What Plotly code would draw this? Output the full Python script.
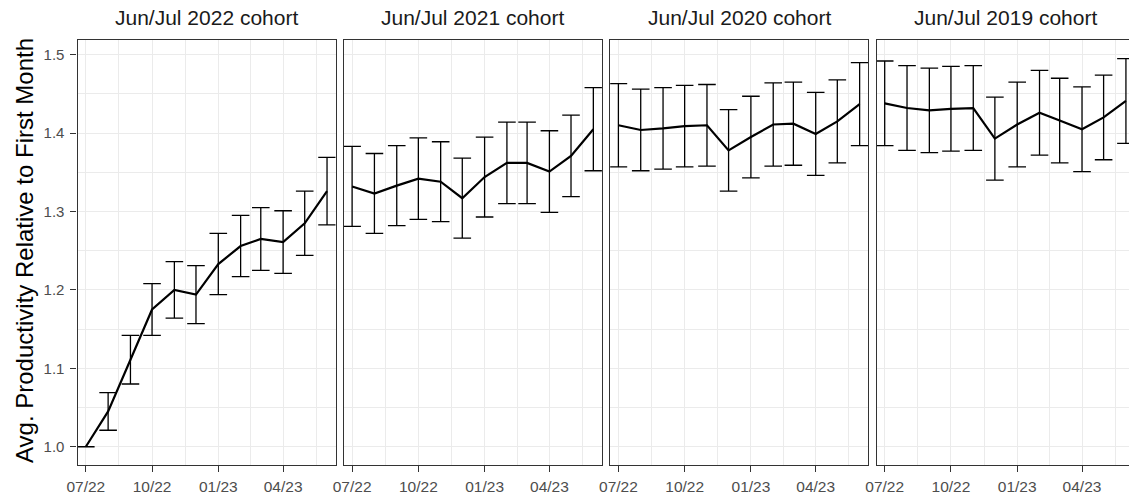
import pandas as pd
import plotly.graph_objects as go

# ---- data -------------------------------------------------------------
months = pd.date_range("2022-07-01", periods=12, freq="MS")

cohorts = ["Jun/Jul 2022 cohort", "Jun/Jul 2021 cohort",
           "Jun/Jul 2020 cohort", "Jun/Jul 2019 cohort"]

prod_2022 = [1.000, 1.045, 1.111, 1.175, 1.200, 1.194, 1.233, 1.256, 1.265, 1.261, 1.285, 1.326]
err_2022 = [0.000, 0.024, 0.031, 0.033, 0.036, 0.037, 0.039, 0.039, 0.040, 0.040, 0.041, 0.043]

prod_2021 = [1.332, 1.323, 1.333, 1.342, 1.338, 1.317, 1.344, 1.362, 1.362, 1.351, 1.371, 1.405]
err_2021 = [0.051, 0.051, 0.051, 0.052, 0.051, 0.051, 0.051, 0.052, 0.052, 0.052, 0.052, 0.053]

prod_2020 = [1.410, 1.404, 1.406, 1.409, 1.410, 1.378, 1.395, 1.411, 1.412, 1.399, 1.415, 1.437]
err_2020 = [0.053, 0.052, 0.052, 0.052, 0.052, 0.052, 0.052, 0.053, 0.053, 0.053, 0.053, 0.053]

prod_2019 = [1.438, 1.432, 1.429, 1.431, 1.432, 1.393, 1.411, 1.426, 1.416, 1.405, 1.420, 1.441]
err_2019 = [0.054, 0.054, 0.054, 0.054, 0.054, 0.053, 0.054, 0.054, 0.054, 0.054, 0.054, 0.054]

series = [(prod_2022, err_2022), (prod_2021, err_2021),
          (prod_2020, err_2020), (prod_2019, err_2019)]

x_tick_dates = ["2022-07-01", "2022-10-01", "2023-01-01", "2023-04-01"]
x_tick_labels = ["07/22", "10/22", "01/23", "04/23"]
x_minor_dates = ["2022-08-16", "2022-11-16", "2023-02-15", "2023-05-17"]
y_ticks = [1.0, 1.1, 1.2, 1.3, 1.4, 1.5]
y_minor = [1.05, 1.15, 1.25, 1.35, 1.45]

# ---- layout geometry (pixels) ----------------------------------------
W, H = 1129, 496
PX_PER_DAY = 0.7201
PANEL_LEFT0 = 77.6
PANEL_W = 258.0
PITCH = 266.3
LEAD_PX = 8.2            # distance from panel edge to first month
PLOT_TOP, PLOT_BOTTOM = 39.5, 465.0
Y_RANGE = [0.9767, 1.5194]

BORDER = "#333333"
GRID = "#EBEBEB"
FONT = "Liberation Sans, Arial, sans-serif"

origin = pd.Timestamp("2022-07-01")

fig = go.Figure()
layout = dict(
    width=W, height=H,
    margin=dict(l=0, r=0, t=0, b=0),
    paper_bgcolor="white", plot_bgcolor="white",
    showlegend=False,
    font=dict(family=FONT, color="#4D4D4D", size=15),
    annotations=[],
)

y_dom = [(H - PLOT_BOTTOM) / H, (H - PLOT_TOP) / H]

for i, (name, (vals, errs)) in enumerate(zip(cohorts, series)):
    left = PANEL_LEFT0 + i * PITCH
    right = min(left + PANEL_W, W)
    start = origin - pd.Timedelta(days=LEAD_PX / PX_PER_DAY)
    end = start + pd.Timedelta(days=(right - left) / PX_PER_DAY)
    sfx = "" if i == 0 else str(i + 1)

    fig.add_trace(go.Scatter(
        x=months, y=vals, mode="lines",
        line=dict(color="black", width=2.2),
        error_y=dict(type="data", array=errs, symmetric=True,
                     color="black", thickness=1.3, width=8.8),
        xaxis="x" + sfx, yaxis="y" + sfx, hoverinfo="skip",
    ))

    layout["xaxis" + sfx] = dict(
        domain=[left / W, right / W], anchor="y" + sfx,
        type="date", range=[start, end],
        tickmode="array", tickvals=x_tick_dates, ticktext=x_tick_labels,
        ticks="outside", ticklen=6, tickwidth=1.3, tickcolor=BORDER,
        tickfont=dict(size=15.5, color="#4D4D4D"), ticklabelstandoff=1,
        showgrid=True, gridcolor=GRID, gridwidth=1.1,
        minor=dict(tickmode="array", tickvals=x_minor_dates,
                   showgrid=True, gridcolor=GRID, gridwidth=0.6, ticks=""),
        showline=True, linecolor=BORDER, linewidth=1.3, mirror=True,
        zeroline=False, automargin=False, fixedrange=True,
    )
    layout["yaxis" + sfx] = dict(
        domain=y_dom, anchor="x" + sfx, range=Y_RANGE,
        tickmode="array", tickvals=y_ticks, tickformat=".1f",
        ticks="outside" if i == 0 else "", ticklen=6, tickwidth=1.3,
        tickcolor=BORDER, showticklabels=(i == 0), ticklabelstandoff=3,
        tickfont=dict(size=15, color="#4D4D4D"),
        showgrid=True, gridcolor=GRID, gridwidth=1.1,
        minor=dict(tickmode="array", tickvals=y_minor,
                   showgrid=True, gridcolor=GRID, gridwidth=0.6, ticks=""),
        showline=True, linecolor=BORDER, linewidth=1.3,
        mirror=(right - left) >= PANEL_W,
        zeroline=False, automargin=False, fixedrange=True,
    )

    layout["annotations"].append(dict(
        text=name, xref="paper", yref="paper",
        x=(left + PANEL_W / 2) / W, y=1 - 18 / H,
        xanchor="center", yanchor="middle", showarrow=False,
        font=dict(size=21, color="#1A1A1A", family=FONT),
    ))

layout["annotations"].append(dict(
    text="Avg. Productivity Relative to First Month",
    xref="paper", yref="paper", x=24 / W, y=1 - 251 / H,
    xanchor="center", yanchor="middle", textangle=-90, showarrow=False,
    font=dict(size=24, color="black", family=FONT),
))

fig.update_layout(**layout)
fig.write_html("out.html")
